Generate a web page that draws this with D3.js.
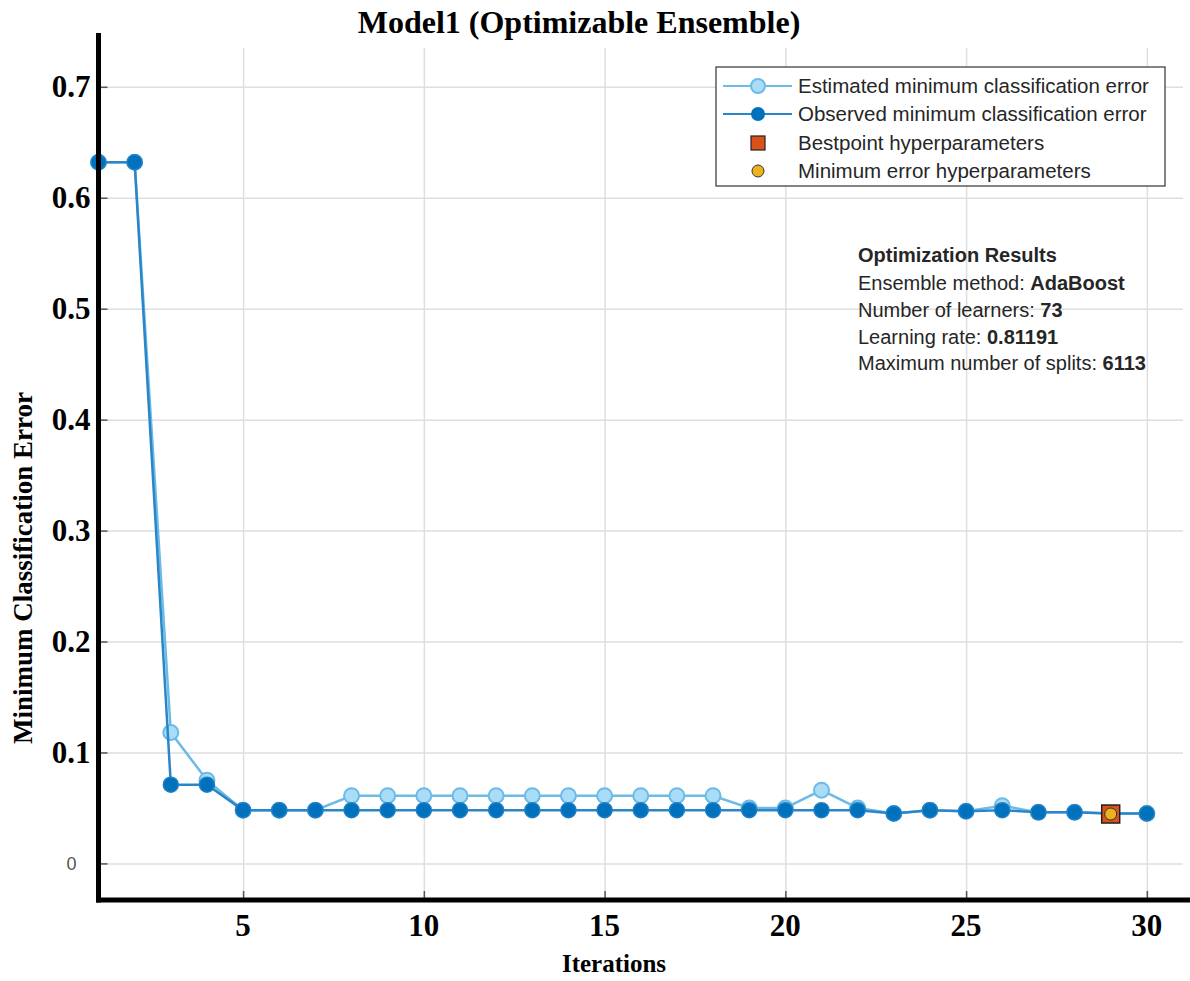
<!DOCTYPE html>
<html lang="en">
<head>
  <meta charset="UTF-8">
  <title>Model1 (Optimizable Ensemble)</title>
  <script src="https://d3js.org/d3.v7.min.js"></script>
  <style>
    body { margin: 0; padding: 0; background: #fff; }
    svg { display: block; }
    .serif { font-family: "Liberation Serif", "Times New Roman", serif; font-weight: bold; fill: #000; }
    .sans { font-family: "Liberation Sans", Arial, sans-serif; fill: #262626; }
  </style>
</head>
<body>
  <div id="chart"></div>
  <script>
    // data
    const iterations = d3.range(1, 31);
    const estimated = [0.632, 0.632, 0.118, 0.075, 0.048, 0.048, 0.048, 0.061, 0.061, 0.061,
                       0.061, 0.061, 0.061, 0.061, 0.061, 0.061, 0.061, 0.061, 0.050, 0.050,
                       0.066, 0.050, 0.045, 0.048, 0.047, 0.052, 0.046, 0.046, 0.045, 0.045];
    const observed = [0.632, 0.632, 0.071, 0.071, 0.048, 0.048, 0.048, 0.048, 0.048, 0.048,
                      0.048, 0.048, 0.048, 0.048, 0.048, 0.048, 0.048, 0.048, 0.048, 0.048,
                      0.048, 0.048, 0.045, 0.048, 0.047, 0.048, 0.046, 0.046, 0.045, 0.045];
    const bestPoint = { iter: 29, value: 0.0445 };
    const xTicks = [5, 10, 15, 20, 25, 30];
    const yTicks = [0.1, 0.2, 0.3, 0.4, 0.5, 0.6, 0.7];
    const legendLabels = [
      "Estimated minimum classification error",
      "Observed minimum classification error",
      "Bestpoint hyperparameters",
      "Minimum error hyperparameters"
    ];
    const resultLines = [
      ["Optimization Results", ""],
      ["Ensemble method: ", "AdaBoost"],
      ["Number of learners: ", "73"],
      ["Learning rate: ", "0.81191"],
      ["Maximum number of splits: ", "6113"]
    ];

    const width = 1190, height = 981;
    const plotL = 98.5, plotR = 1183, plotT = 48, plotB = 900;

    const svg = d3.select("#chart").append("svg")
      .attr("width", width).attr("height", height);

    const x = d3.scaleLinear().domain([1, 31]).range([plotL, plotR]);
    const y = d3.scaleLinear().domain([-0.033, 0.735]).range([plotB, plotT]);

    // grid
    const grid = svg.append("g");
    grid.append("g").attr("transform", `translate(0,${plotB})`)
      .call(d3.axisBottom(x).tickValues(xTicks).tickSize(-(plotB - plotT)).tickFormat(""))
      .call(g => g.select(".domain").remove());
    grid.append("g").attr("transform", `translate(${plotL},0)`)
      .call(d3.axisLeft(y).tickValues([0].concat(yTicks)).tickSize(-(plotR - plotL)).tickFormat(""))
      .call(g => g.select(".domain").remove());
    grid.selectAll("line").attr("stroke", "#dedede").attr("stroke-width", 1.5);

    // small inward tick marks
    const ticks = svg.append("g");
    ticks.append("g").attr("transform", `translate(0,${plotB})`)
      .call(d3.axisBottom(x).tickValues(xTicks).tickSize(-9).tickFormat(""))
      .call(g => g.select(".domain").remove());
    ticks.append("g").attr("transform", `translate(${plotL},0)`)
      .call(d3.axisLeft(y).tickValues([0].concat(yTicks)).tickSize(-9).tickFormat(""))
      .call(g => g.select(".domain").remove());
    ticks.selectAll("line").attr("stroke", "#555").attr("stroke-width", 1.5);

    // lines and markers
    const estPts = iterations.map((d, i) => [d, estimated[i]]);
    const obsPts = iterations.map((d, i) => [d, observed[i]]);
    const line = d3.line().x(d => x(d[0])).y(d => y(d[1]));

    svg.append("path").datum(estPts).attr("d", line)
      .attr("fill", "none").attr("stroke", "#6cbbe6").attr("stroke-width", 2.5);
    svg.append("g").selectAll("circle").data(estPts).join("circle")
      .attr("cx", d => x(d[0])).attr("cy", d => y(d[1])).attr("r", 7.5)
      .attr("fill", "#a9dcf7").attr("stroke", "#6cbbe6").attr("stroke-width", 2);

    svg.append("path").datum(obsPts).attr("d", line)
      .attr("fill", "none").attr("stroke", "#2a86c8").attr("stroke-width", 2.5);
    svg.append("g").selectAll("circle").data(obsPts).join("circle")
      .attr("cx", d => x(d[0])).attr("cy", d => y(d[1])).attr("r", 7.5)
      .attr("fill", "#0072bd").attr("stroke", "#1f7fc4").attr("stroke-width", 1.5);

    // best point + min error markers
    svg.append("rect")
      .attr("x", x(bestPoint.iter) - 9).attr("y", y(bestPoint.value) - 9)
      .attr("width", 18).attr("height", 18)
      .attr("fill", "#d95319").attr("stroke", "#222").attr("stroke-width", 1.5);
    svg.append("circle")
      .attr("cx", x(bestPoint.iter)).attr("cy", y(bestPoint.value)).attr("r", 6)
      .attr("fill", "#edb120").attr("stroke", "#333").attr("stroke-width", 1);

    // thick black axes
    svg.append("line").attr("x1", plotL).attr("x2", plotL).attr("y1", 33).attr("y2", plotB + 2.5)
      .attr("stroke", "#000").attr("stroke-width", 5);
    svg.append("line").attr("x1", plotL - 2.5).attr("x2", width).attr("y1", plotB).attr("y2", plotB)
      .attr("stroke", "#000").attr("stroke-width", 5);

    // tick labels
    svg.append("g").selectAll("text").data(yTicks).join("text")
      .attr("class", "serif")
      .attr("x", plotL - 8).attr("y", d => y(d)).attr("dy", "0.33em")
      .attr("text-anchor", "end").attr("font-size", 31)
      .text(d => d3.format(".1f")(d));
    svg.append("text").attr("class", "sans")
      .attr("x", plotL - 22).attr("y", y(0)).attr("dy", "0.35em")
      .attr("text-anchor", "end").attr("font-size", 18).style("fill", "#555")
      .text("0");
    svg.append("g").selectAll("text").data(xTicks).join("text")
      .attr("class", "serif")
      .attr("x", d => x(d)).attr("y", 936)
      .attr("text-anchor", "middle").attr("font-size", 31)
      .text(d => d);

    // titles
    svg.append("text").attr("class", "serif")
      .attr("x", 579).attr("y", 33).attr("text-anchor", "middle").attr("font-size", 32)
      .text("Model1 (Optimizable Ensemble)");
    svg.append("text").attr("class", "serif")
      .attr("x", 614).attr("y", 972).attr("text-anchor", "middle").attr("font-size", 25)
      .text("Iterations");
    svg.append("text").attr("class", "serif")
      .attr("transform", `translate(32,568) rotate(-90)`)
      .attr("text-anchor", "middle").attr("font-size", 27)
      .text("Minimum Classification Error");

    // legend
    const lg = svg.append("g");
    lg.append("rect").attr("x", 716).attr("y", 67).attr("width", 449).attr("height", 119)
      .attr("fill", "#fff").attr("stroke", "#333").attr("stroke-width", 1.2);
    const rowY = [86, 114, 143, 171];
    lg.append("line").attr("x1", 723).attr("x2", 792).attr("y1", rowY[0]).attr("y2", rowY[0])
      .attr("stroke", "#6cbbe6").attr("stroke-width", 2);
    lg.append("circle").attr("cx", 758).attr("cy", rowY[0]).attr("r", 7)
      .attr("fill", "#a9dcf7").attr("stroke", "#6cbbe6").attr("stroke-width", 2);
    lg.append("line").attr("x1", 723).attr("x2", 792).attr("y1", rowY[1]).attr("y2", rowY[1])
      .attr("stroke", "#2a86c8").attr("stroke-width", 2);
    lg.append("circle").attr("cx", 758).attr("cy", rowY[1]).attr("r", 7)
      .attr("fill", "#0072bd");
    lg.append("rect").attr("x", 751).attr("y", rowY[2] - 7).attr("width", 14).attr("height", 14)
      .attr("fill", "#d95319").attr("stroke", "#222").attr("stroke-width", 1.2);
    lg.append("circle").attr("cx", 758).attr("cy", rowY[3]).attr("r", 6)
      .attr("fill", "#edb120").attr("stroke", "#333").attr("stroke-width", 1);
    lg.selectAll("text.lbl").data(legendLabels).join("text")
      .attr("class", "sans lbl")
      .attr("x", 798).attr("y", (d, i) => rowY[i]).attr("dy", "0.35em")
      .attr("font-size", 20.5)
      .text(d => d);

    // optimization results text
    const resY = [255, 283, 310, 337, 363];
    const res = svg.append("g");
    resultLines.forEach((r, i) => {
      const t = res.append("text").attr("class", "sans")
        .attr("x", 858).attr("y", resY[i]).attr("dy", "0.35em").attr("font-size", 20);
      if (i === 0) {
        t.attr("font-weight", "bold").text(r[0]);
      } else {
        t.append("tspan").text(r[0]);
        t.append("tspan").attr("font-weight", "bold").text(r[1]);
      }
    });
  </script>
</body>
</html>
